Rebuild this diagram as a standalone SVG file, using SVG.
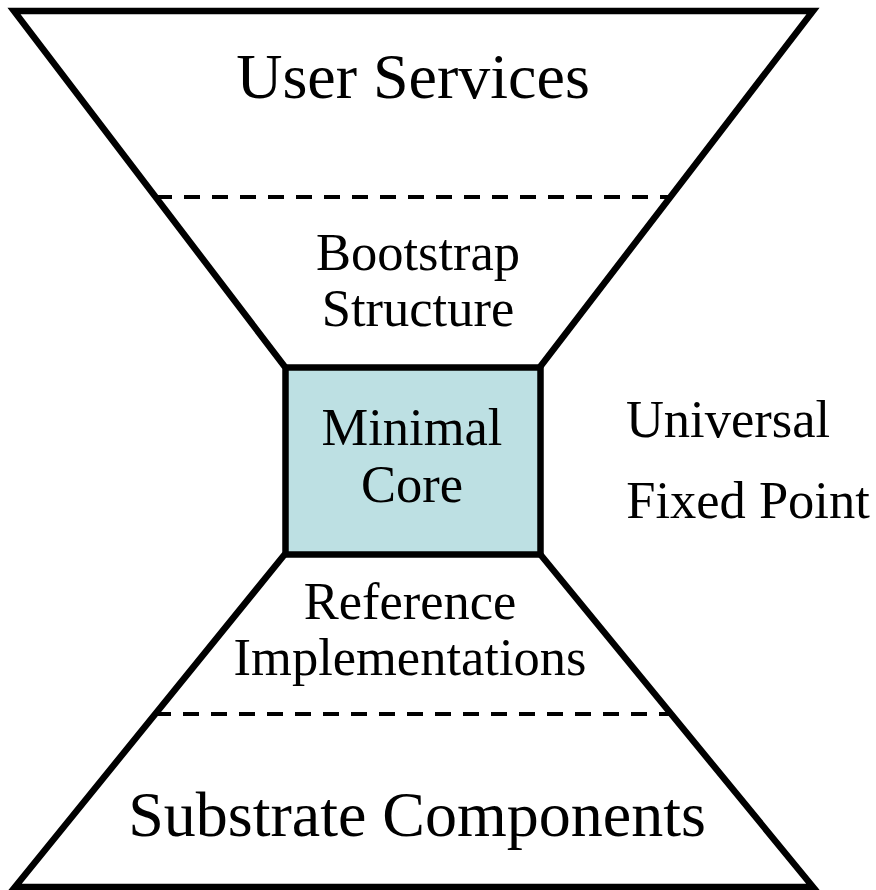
<svg xmlns="http://www.w3.org/2000/svg" width="876" height="890" viewBox="0 0 876 890">
<style>
.t{font-family:"Liberation Serif","Times New Roman",serif;fill:#000;text-anchor:middle}
.big{font-size:64px}
.mid{font-size:52.5px}
.edge{fill:none;stroke:#000;stroke-width:6.5;stroke-linejoin:miter}
.dash{fill:none;stroke:#000;stroke-width:4;stroke-dasharray:16 12}
</style>
<rect width="876" height="890" fill="#fff"/>
<g id="connectors">
<polyline class="edge" points="285,367 14,11 813,11 540,367"/>
<polyline class="edge" points="285,554 15,887 813,887 540,554"/>
<line class="dash" x1="156" y1="197" x2="670" y2="197"/>
<line class="dash" x1="155" y1="714" x2="671" y2="714"/>
</g>
<g id="user-services">
<text class="t big" x="413" y="98">User Services</text>
</g>
<g id="bootstrap">
<text class="t mid" x="418" y="270">Bootstrap</text>
<text class="t mid" x="418" y="326">Structure</text>
</g>
<g id="core">
<rect x="285.5" y="367.5" width="255" height="187" fill="#bde0e3" stroke="#000" stroke-width="6.5"/>
<text class="t mid" x="412" y="445">Minimal</text>
<text class="t mid" x="412" y="502">Core</text>
</g>
<g id="universal">
<text class="t mid" x="728" y="437">Universal</text>
<text class="t mid" x="748" y="518">Fixed Point</text>
</g>
<g id="reference">
<text class="t mid" x="410" y="619">Reference</text>
<text class="t mid" x="410" y="675">Implementations</text>
</g>
<g id="substrate">
<text class="t big" x="417" y="836">Substrate Components</text>
</g>
</svg>
